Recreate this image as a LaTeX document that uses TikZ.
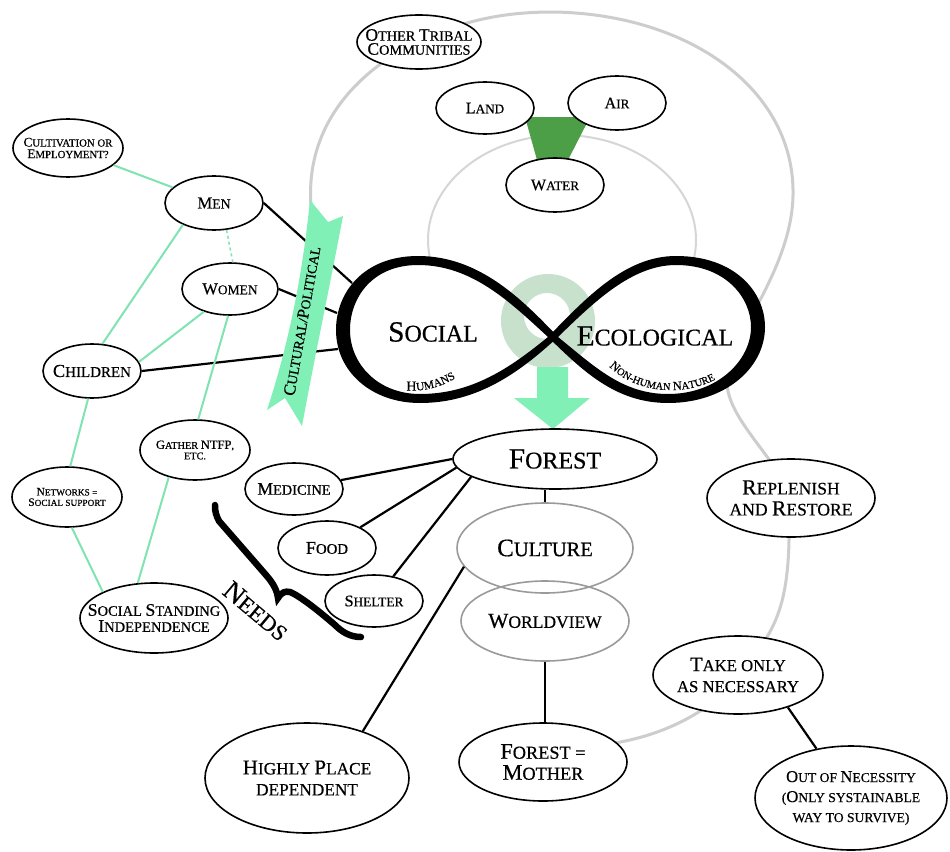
\documentclass[tikz,border=0pt]{standalone}
\usepackage{fontspec}
\setmainfont{Liberation Serif}[FakeBold=0.5]
\usetikzlibrary{shapes.geometric,decorations.text}
\definecolor{mint}{HTML}{80F0B6}
\definecolor{mintline}{HTML}{7FE3B2}
\definecolor{pale}{HTML}{C8E1CD}
\definecolor{leaf}{HTML}{4C9F47}
\definecolor{loopgray}{HTML}{CDCDCD}
\definecolor{innergray}{HTML}{D6D6D6}
\definecolor{grayell}{HTML}{9A9A9A}
% zero-width centred line, and an enlarged initial capital
\newcommand\ct[1]{\makebox[0pt]{#1}}
\newcommand\B[1]{\scalebox{1.22}{#1}}
\begin{document}
\begin{tikzpicture}[x=1pt,y=-1pt,
  ell/.style={ellipse,draw=black,line width=1.6pt,fill=white,inner sep=0pt,align=center},
  gell/.style={ellipse,draw=grayell,line width=1.6pt,inner sep=0pt,align=center},
  ew/.style={minimum width=#1pt},
  eh/.style={minimum height=#1pt},
  sz/.style 2 args={font=\fontsize{#1}{#2}\selectfont},
  link/.style={line width=2.2pt},
  soft/.style={mintline,line width=2pt},
  halo/.style={loopgray,line width=3pt},
]
\useasboundingbox (0,0) rectangle (950,851);
\fill[white] (0,0) rectangle (950,851);

% large grey loop around the ecological side
\draw[halo] (311,206) .. controls (306,140) and (340,80) .. (420,40)
  .. controls (470,18) and (510,12) .. (553,12)
  .. controls (690,14) and (795,90) .. (793,195)
  .. controls (792,260) and (745,320) .. (730,360)
  .. controls (718,395) and (740,420) .. (768,458)
  .. controls (785,480) and (790,520) .. (789,540)
  .. controls (788,590) and (780,615) .. (767,637)
  .. controls (740,690) and (690,730) .. (615,743);
% inner grey loop
\draw[innergray,line width=2pt] (562,240) ellipse [x radius=134pt, y radius=105pt];
% land / air / water wedge
\fill[leaf] (525,117) -- (590,117) -- (568,160) -- (537,160) -- cycle;

% infinity: white interiors
\fill[white] (548,337) .. controls (510,302) and (472,265) .. (418,265) .. controls (372,265) and (350,298) .. (350,330) .. controls (350,364) and (378,394) .. (420,394) .. controls (472,394) and (510,368) .. (548,337) -- cycle;
\fill[white] (558,337) .. controls (594,302) and (632,265) .. (676,265) .. controls (726,265) and (751,298) .. (751,327) .. controls (751,360) and (718,394) .. (668,394) .. controls (622,394) and (594,366) .. (558,337) -- cycle;
% pale ring at the crossing
\fill[pale,even odd rule] (548,321) circle (47pt) (547,316) circle (23pt);
% infinity: black lobes
\fill[black,even odd rule]
  (558,337) .. controls (520,297) and (478,256) .. (418,256) .. controls (364,256) and (336,292) .. (336,330) .. controls (336,372) and (372,403) .. (420,403) .. controls (478,403) and (520,372) .. (558,337) -- cycle
  (548,337) .. controls (510,302) and (472,265) .. (418,265) .. controls (372,265) and (350,298) .. (350,330) .. controls (350,364) and (378,394) .. (420,394) .. controls (472,394) and (510,368) .. (548,337) -- cycle;
\fill[black,even odd rule]
  (548,337) .. controls (586,298) and (625,256) .. (676,256) .. controls (735,256) and (765,292) .. (765,327) .. controls (765,368) and (725,403) .. (668,403) .. controls (615,403) and (582,370) .. (548,337) -- cycle
  (558,337) .. controls (594,302) and (632,265) .. (676,265) .. controls (726,265) and (751,298) .. (751,327) .. controls (751,360) and (718,394) .. (668,394) .. controls (622,394) and (594,366) .. (558,337) -- cycle;
% arrow down to the forest
\fill[mint] (537,367) -- (568,367) -- (568,398) -- (590,398) -- (553,429) -- (514,398) -- (537,398) -- cycle;

% attachment points on the infinity outline
\coordinate (infA) at (352,283);
\coordinate (infB) at (337,313);
\coordinate (infC) at (338,349);

% nodes
\node[ell,ew=124,eh=54,sz={14.3}{14}] (otc) at (419,42) {\ct{\B{O}THER \B{T}RIBAL}\\\ct{\B{C}OMMUNITIES}};
\node[ell,ew=98,eh=52,sz={13.2}{14}] (land) at (485,108) {\ct{\B{L}AND}};
\node[ell,ew=98,eh=54,sz={13.2}{14}] (air) at (617,103) {\ct{\B{A}IR}};
\node[ell,ew=98,eh=54,sz={13.2}{14}] (water) at (555,185) {\ct{\B{W}ATER}};
\node[ell,ew=110,eh=58,sz={10.8}{11.5}] (cult) at (68,148) {\ct{\B{C}ULTIVATION OR}\\\ct{\B{E}MPLOYMENT?}};
\node[ell,ew=98,eh=54,sz={13.7}{14}] (men) at (214,203) {\ct{\B{M}EN}};
\node[ell,ew=96,eh=52,sz={13.5}{14}] (women) at (230,289) {\ct{\B{W}OMEN}};
\node[ell,ew=98,eh=54,sz={15}{15}] (children) at (92,371) {\ct{\B{C}HILDREN}};
\node[ell,ew=110,eh=60,sz={9.3}{10.5}] (networks) at (67,497) {\ct{\B{N}ETWORKS =}\\\ct{\B{S}OCIAL SUPPORT}};
\node[ell,ew=110,eh=60,sz={10.3}{10.5}] (gather) at (195,450) {\ct{\B{G}ATHER \B{N}\B{T}\B{F}\B{P},}\\\ct{ETC.}};
\node[ell,ew=148,eh=70,sz={14.5}{16}] (ss) at (154,618) {\ct{\B{S}OCIAL \B{S}TANDING}\\\ct{\B{I}NDEPENDENCE}};
\node[ell,ew=98,eh=52,sz={14.4}{15}] (medicine) at (294,489) {\ct{\B{M}EDICINE}};
\node[ell,ew=98,eh=54,sz={14.8}{15}] (food) at (327,548) {\ct{\B{F}OOD}};
\node[ell,ew=98,eh=52,sz={13.3}{15}] (shelter) at (374,601) {\ct{\B{S}HELTER}};
\node[ell,ew=204,eh=60,sz={24}{25}] (forest) at (555,459) {\ct{\B{F}OREST}};
\node[gell,ew=176,eh=90,sz={20.5}{22}] (culture) at (545,548) {\ct{\B{C}ULTURE}};
\node[gell,ew=168,eh=80,sz={17.5}{19}] (worldview) at (545,621) {\ct{\B{W}ORLDVIEW}};
\node[ell,ew=168,eh=78,sz={17.6}{21}] (replenish) at (791,498) {\ct{\B{R}EPLENISH}\\\ct{AND \B{R}ESTORE}};
\node[ell,ew=170,eh=78,sz={16.7}{21}] (take) at (738,675) {\ct{\B{T}AKE ONLY}\\\ct{AS NECESSARY}};
\node[ell,ew=192,eh=104,sz={13.6}{20}] (oon) at (851,798) {\ct{\B{O}UT OF \B{N}ECESSITY}\\\ct{(\B{O}NLY SYSTAINABLE}\\\ct{WAY TO SURVIVE)}};
\node[ell,ew=204,eh=110,sz={17.3}{21}] (highly) at (307,778) {\ct{\B{H}IGHLY \B{P}LACE}\\\ct{DEPENDENT}};
\node[ell,ew=168,eh=78,sz={18.3}{21}] (fm) at (543,762) {\ct{\B{F}OREST =}\\\ct{\B{M}OTHER}};

% black connectors
\draw[link] (men.east) -- (infA);
\draw[link] (women.east) -- (infB);
\draw[link] (children.east) -- (infC);
\draw[link] (forest.west) -- (medicine);
\draw[link] (forest.185) -- (food);
\draw[link] (forest.192) -- (shelter);
\draw[link] (culture.north) -- (culture.north |- forest.south);
\draw[link] (culture.193) -- (highly.40);
\draw[link] (worldview.south) -- (worldview.south |- fm.north);
\draw[link] (take.-33) -- (oon.125);

% soft green connectors among the social nodes
\draw[soft] (cult) -- (men);
\draw[soft] (men.215) -- (children.69);
\draw[soft,dashed,line width=1.5pt] (men.295) -- (women.84);
\draw[soft] (women.221) -- (children.11);
\draw[soft] (women.266) -- (gather.84);
\draw[soft] (children.262) -- (networks.84);
\draw[soft] (networks.279) -- (ss.153);
\draw[soft] (gather.226) -- (ss.115);

% cultural/political banner
\fill[mint] (310,200) .. controls (303,270) and (290,340) .. (267,410) -- (285,398) -- (302,426)
  .. controls (315,355) and (330,285) .. (343,216) -- (328,222) -- cycle;
\node[sz={13.8}{14},rotate=80] (banner) at (302,321) {\B{C}ULTURAL/\B{P}OLITICAL};

% infinity labels
\node[sz={24}{24}] (social) at (433,332) {\B{S}OCIAL};
\node[sz={24}{24}] (ecol) at (655,336) {\B{E}COLOGICAL};
\path[decorate,decoration={text along path,text align=center,
  text={|\fontsize{14}{14}\selectfont|H|\fontsize{11.5}{11}\selectfont|UMANS}}]
  (394,389) .. controls (420,394) and (444,388) .. (466,371);
\path[decorate,decoration={text along path,text align=center,
  text={|\fontsize{12.5}{12}\selectfont|N|\fontsize{10.5}{10}\selectfont|ON-HUMAN |\fontsize{12.5}{12}\selectfont|N|\fontsize{10.5}{10}\selectfont|ATURE}}]
  (601,357) .. controls (627,394) and (687,401) .. (726,373);

% needs brace
\draw[line width=6.5pt,line cap=round,line join=miter,miter limit=6]
  (215,505) .. controls (215,512) and (216,515) .. (219,521)
  -- (266,575) .. controls (273,583) and (277,590) .. (278,598)
  .. controls (282,592) and (285,591) .. (290,592)
  .. controls (300,596) and (320,612) .. (335,625)
  .. controls (342,632) and (350,637) .. (361,637);
\node[sz={22.5}{23},rotate=-40] (needs) at (256,611) {\B{N}EEDS};
\end{tikzpicture}
\end{document}
